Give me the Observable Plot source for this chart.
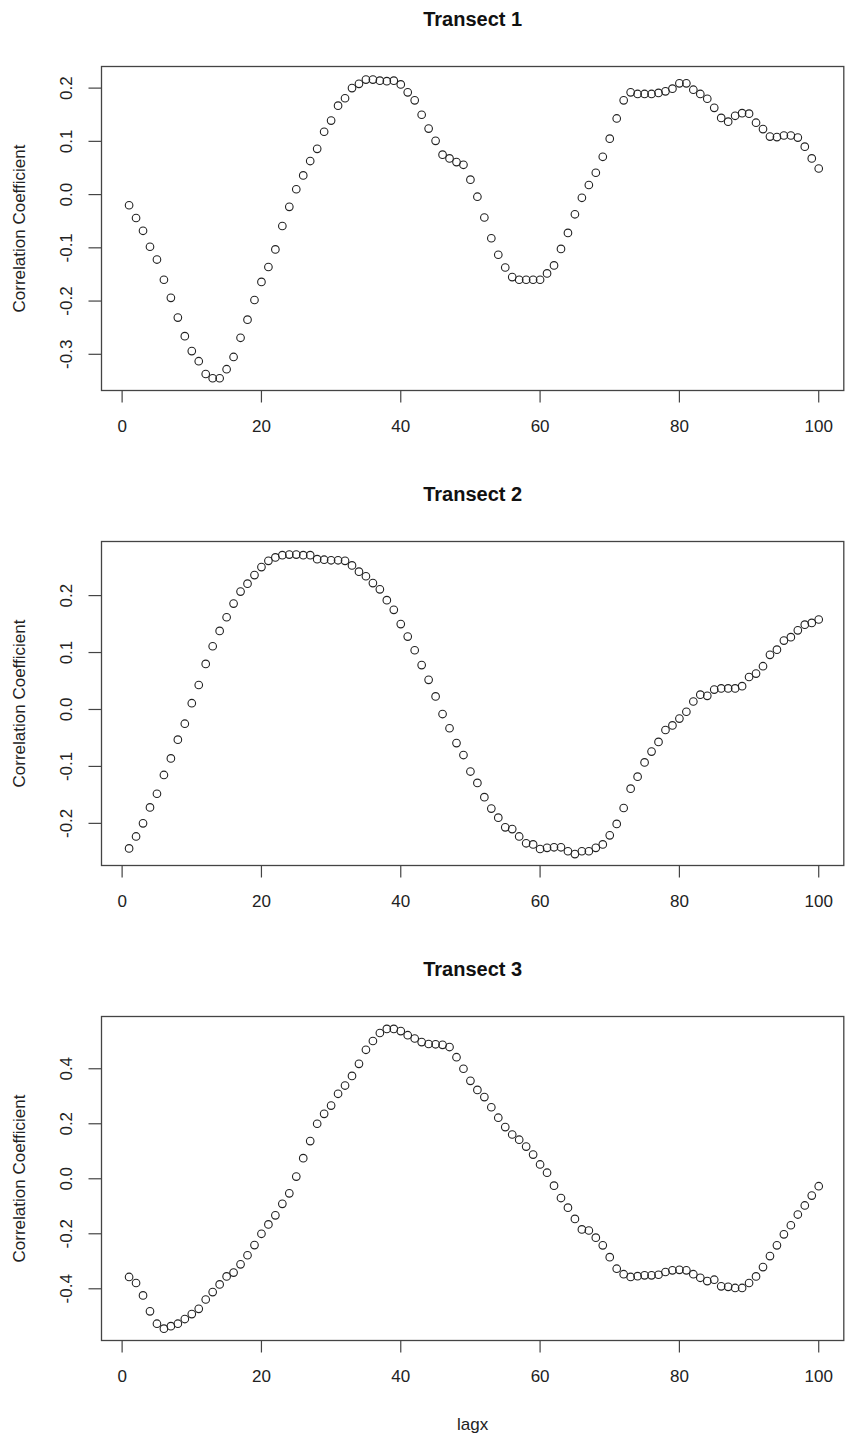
<!DOCTYPE html>
<html>
<head>
<meta charset="utf-8">
<script src="https://cdn.jsdelivr.net/npm/d3@7"></script>
<script src="https://cdn.jsdelivr.net/npm/@observablehq/plot@0.6"></script>
<style>
  body { margin: 0; background: #fff; overflow: hidden; }
  svg { display: block; }
</style>
</head>
<body>
<div id="chart"></div>
<script>
// ---- data ----
const lagx = [1,2,3,4,5,6,7,8,9,10,11,12,13,14,15,16,17,18,19,20,
  21,22,23,24,25,26,27,28,29,30,31,32,33,34,35,36,37,38,39,40,
  41,42,43,44,45,46,47,48,49,50,51,52,53,54,55,56,57,58,59,60,
  61,62,63,64,65,66,67,68,69,70,71,72,73,74,75,76,77,78,79,80,
  81,82,83,84,85,86,87,88,89,90,91,92,93,94,95,96,97,98,99,100];

const transect1 = [
  -0.020,-0.044,-0.068,-0.098,-0.122,-0.160,-0.194,-0.231,-0.266,-0.294,
  -0.313,-0.337,-0.345,-0.345,-0.328,-0.305,-0.269,-0.235,-0.198,-0.164,
  -0.136,-0.103,-0.059,-0.023,0.010,0.036,0.063,0.086,0.118,0.139,
  0.167,0.181,0.200,0.208,0.216,0.216,0.214,0.213,0.214,0.207,
  0.192,0.177,0.150,0.124,0.101,0.075,0.068,0.061,0.056,0.028,
  -0.004,-0.043,-0.082,-0.113,-0.137,-0.155,-0.160,-0.160,-0.160,-0.160,
  -0.148,-0.133,-0.102,-0.072,-0.037,-0.006,0.018,0.041,0.071,0.105,
  0.143,0.177,0.192,0.189,0.189,0.189,0.191,0.194,0.199,0.209,
  0.209,0.197,0.189,0.180,0.163,0.144,0.137,0.148,0.153,0.152,
  0.135,0.123,0.109,0.108,0.111,0.111,0.107,0.090,0.068,0.049];

const transect2 = [
  -0.244,-0.223,-0.200,-0.172,-0.148,-0.115,-0.086,-0.053,-0.025,0.011,
  0.043,0.080,0.111,0.138,0.162,0.186,0.207,0.221,0.236,0.250,
  0.261,0.267,0.271,0.272,0.272,0.271,0.271,0.264,0.263,0.262,
  0.262,0.261,0.253,0.242,0.234,0.222,0.211,0.192,0.175,0.150,
  0.128,0.104,0.078,0.052,0.023,-0.008,-0.033,-0.059,-0.080,-0.109,
  -0.129,-0.154,-0.174,-0.190,-0.207,-0.210,-0.223,-0.235,-0.237,-0.245,
  -0.243,-0.242,-0.242,-0.249,-0.254,-0.249,-0.249,-0.243,-0.237,-0.221,
  -0.201,-0.173,-0.139,-0.118,-0.093,-0.074,-0.057,-0.036,-0.028,-0.016,
  -0.004,0.014,0.026,0.024,0.035,0.037,0.037,0.037,0.041,0.057,
  0.063,0.076,0.096,0.105,0.121,0.127,0.139,0.149,0.152,0.158];

const transect3 = [
  -0.357,-0.379,-0.424,-0.482,-0.527,-0.545,-0.536,-0.527,-0.510,-0.492,
  -0.473,-0.439,-0.412,-0.384,-0.355,-0.341,-0.311,-0.278,-0.241,-0.200,
  -0.166,-0.133,-0.091,-0.053,0.008,0.075,0.137,0.200,0.236,0.266,
  0.309,0.339,0.374,0.418,0.469,0.501,0.530,0.545,0.545,0.537,
  0.522,0.510,0.497,0.490,0.489,0.487,0.479,0.442,0.400,0.356,
  0.323,0.297,0.260,0.222,0.188,0.161,0.142,0.117,0.088,0.052,
  0.022,-0.025,-0.070,-0.105,-0.146,-0.184,-0.188,-0.214,-0.242,-0.285,
  -0.327,-0.347,-0.357,-0.354,-0.351,-0.351,-0.349,-0.339,-0.333,-0.331,
  -0.333,-0.347,-0.360,-0.372,-0.367,-0.391,-0.393,-0.397,-0.397,-0.379,
  -0.355,-0.321,-0.281,-0.242,-0.202,-0.169,-0.130,-0.097,-0.061,-0.027];

const panelTitles = ["Transect 1", "Transect 2", "Transect 3"];
const xTicks = [0, 20, 40, 60, 80, 100];
const yTicks1 = [-0.3, -0.2, -0.1, 0.0, 0.1, 0.2];
const yTicks2 = [-0.2, -0.1, 0.0, 0.1, 0.2];
const yTicks3 = [-0.4, -0.2, 0.0, 0.2, 0.4];
const yLabel = "Correlation Coefficient";
const xLabel = "lagx";

// ---- chart ----
const seriesList = [transect1, transect2, transect3];
const yTickList = [yTicks1, yTicks2, yTicks3];
const yDomains = [[-0.368, 0.2406], [-0.274, 0.295], [-0.588, 0.590]];
const xDomain = [-2.96, 103.6];
const fmt = v => v.toFixed(1);
const font = "'Liberation Sans', Arial, Helvetica, sans-serif";

function panel(i) {
  const series = seriesList[i];
  const data = lagx.map((x, k) => ({lag: x, r: series[k]}));
  const last = i === 2;
  const h = last ? 487 : 475;
  return Plot.plot({
    width: 845,
    height: h,
    marginTop: 66,
    marginBottom: h - 390,
    marginLeft: 101,
    marginRight: 1.7,
    style: {background: "#fff", color: "#222", fontFamily: font},
    x: {domain: xDomain},
    y: {domain: yDomains[i]},
    marks: [
      Plot.frame({stroke: "#444", strokeWidth: 1.3}),
      Plot.axisX({ticks: xTicks, tickSize: 12.5, tickPadding: 17, fontSize: 17,
        label: null, tickFormat: d => String(d), stroke: "#444", strokeWidth: 1.2}),
      Plot.axisY({ticks: yTickList[i], tickSize: 12.5, tickFormat: () => "",
        label: null, stroke: "#444", strokeWidth: 1.2}),
      Plot.text(yTickList[i], {y: d => d, text: fmt, frameAnchor: "left", dx: -35,
        rotate: -90, fontSize: 17, textAnchor: "middle", lineAnchor: "middle", fill: "#222"}),
      Plot.text([yLabel], {text: d => d, frameAnchor: "left", dx: -82, rotate: -90,
        fontSize: 17, textAnchor: "middle", lineAnchor: "middle", fill: "#222"}),
      Plot.text([panelTitles[i]], {text: d => d, frameAnchor: "top", dy: -47,
        fontSize: 20, fontWeight: "bold", lineAnchor: "middle", fill: "#111"}),
      last ? Plot.text([xLabel], {text: d => d, frameAnchor: "bottom", dy: 84,
        fontSize: 17, lineAnchor: "middle", fill: "#222"}) : null,
      Plot.dot(data, {x: "lag", y: "r", r: 3.8, stroke: "#222", strokeWidth: 1.1, fill: "none"})
    ]
  });
}

const root = document.getElementById("chart");
for (let i = 0; i < 3; i++) root.appendChild(panel(i));
</script>
</body>
</html>
